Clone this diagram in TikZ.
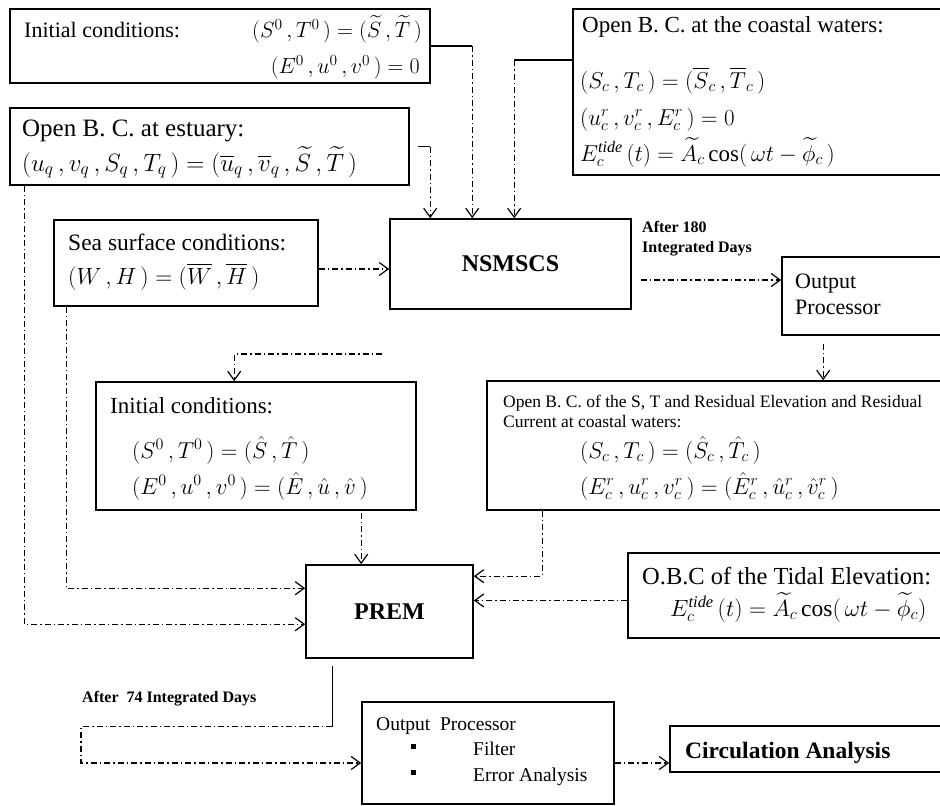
\RequirePackage{fix-cm}
\documentclass[tikz,border=0pt]{standalone}
\usepackage{amsmath}
\usepackage{fontspec}
\setmainfont{Liberation Serif}
\usetikzlibrary{arrows.meta,fit}

\tikzset{
  box/.style={draw, line width=1.6pt, inner sep=0pt},
  plain/.style={line width=1.4pt},
  flow/.style={line width=1.2pt, dash pattern=on 6pt off 3pt on 1.5pt off 3pt,
    -{Straight Barb[length=9pt,width=13pt]}},
  txt/.style={inner sep=0pt, anchor=base west},
  sz/.style={font=\fontsize{#1}{#1}\selectfont},
}

\begin{document}
\begin{tikzpicture}[x=1pt, y=-1pt]
\useasboundingbox (0,0) rectangle (940,806);

% boxes
\node [box, fit={(10,9) (430,83)}] (ic1) {};
\node [box, fit={(10,108) (409,185)}] (est) {};
\node [box, fit={(573,9) (950,175)}] (coast) {};
\node [box, fit={(54,220) (318,306)}] (sea) {};
\node [box, fit={(390,219) (631,309)}] (nsm) {};
\node [box, fit={(782,257) (950,335)}] (out1) {};
\node [box, fit={(96,382) (416,510)}] (ic2) {};
\node [box, fit={(487,381) (950,510)}] (obc) {};
\node [box, fit={(628,553) (950,638)}] (tide) {};
\node [box, fit={(306,565) (473,658)}] (prem) {};
\node [box, fit={(362,702) (614,804)}] (out2) {};
\node [box, fit={(670,726) (950,772)}] (circ) {};

% texts
\node [sz=24] (nsmt) at (nsm.center) {\bfseries NSMSCS};
\node [sz=24] (premt) at (prem.center) {\bfseries PREM};

\node [txt, sz=22] (ic1a) at (24,37) {Initial conditions:};
\node [txt, sz=22, anchor=base east] (ic1b) at (422,37) {$(S^0\,,T^0\,)=(\widetilde{S}\,,\widetilde{T}\,)$};
\node [txt, sz=22, anchor=base east] (ic1c) at (420,73) {$(E^0\,,u^0\,,v^0\,)=0$};

\node [txt, sz=25] (esta) at (22,136) {Open B. C. at estuary:};
\node [txt, sz=25] (estb) at (22,171) {$(u_q\,,v_q\,,S_q\,,T_q\,)=(\overline{u}_q\,,\overline{v}_q\,,\widetilde{S}\,,\widetilde{T}\,)$};

\node [txt, sz=23] (coa) at (582,32) {Open B. C. at the coastal waters:};
\node [txt, sz=23] (cob) at (580,88) {$(S_c\,,T_c\,)=(\overline{S}_c\,,\overline{T}_c\,)$};
\node [txt, sz=23] (coc) at (580,125) {$(u_c^r\,,v_c^r\,,E_c^r\,)=0$};
\node [txt, sz=23] (cod) at (580,161) {$E_c^{\mathit{tide}}\,(t)=\widetilde{A}_c\cos(\,\omega t-\widetilde{\phi}_c\,)$};

\node [txt, sz=23.5] (seaa) at (68,250) {Sea surface conditions:};
\node [txt, sz=23.5] (seab) at (68,284) {$(W\,,H\,)=(\overline{W}\,,\overline{H}\,)$};

\node [txt, sz=16] (d180a) at (642,232) {\bfseries After 180};
\node [txt, sz=16] (d180b) at (642,252) {\bfseries Integrated Days};

\node [txt, sz=22] (o1a) at (795,288) {Output};
\node [txt, sz=22] (o1b) at (795,314) {Processor};

\node [txt, sz=23] (ic2a) at (110,413) {Initial conditions:};
\node [txt, sz=23] (ic2b) at (132,458) {$(S^0\,,T^0\,)=(\hat{S}\,,\hat{T}\,)$};
\node [txt, sz=23] (ic2c) at (132,494) {$(E^0\,,u^0\,,v^0\,)=(\hat{E}\,,\hat{u}\,,\hat{v}\,)$};

\node [txt, sz=17.5] (obca) at (503,407) {Open B. C. of the S, T and Residual Elevation and Residual};
\node [txt, sz=17.5] (obcb) at (503,427) {Current at coastal waters:};
\node [txt, sz=23] (obcc) at (580,458) {$(S_c\,,T_c\,)=(\hat{S}_c\,,\hat{T}_c\,)$};
\node [txt, sz=23] (obcd) at (580,494) {$(E_c^r\,,u_c^r\,,v_c^r\,)=(\hat{E}_c^r\,,\hat{u}_c^r\,,\hat{v}_c^r\,)$};

\node [txt, sz=24.5] (tda) at (642,584) {O.B.C of the Tidal Elevation:};
\node [txt, sz=23.5] (tdb) at (670,616) {$E_c^{\mathit{tide}}\,(t)=\widetilde{A}_c\cos(\,\omega t-\widetilde{\phi}_c)$};

\node [txt, sz=16] (d74) at (82,702) {\bfseries After \ 74 Integrated Days};

\node [txt, sz=19.5] (o2a) at (376,730) {Output \ Processor};
\node [inner sep=0pt, fill, minimum size=5pt] (bul1) at (413,746) {};
\node [inner sep=0pt, fill, minimum size=5pt] (bul2) at (413,772) {};
\node [txt, sz=19.5] (o2b) at (473,755) {Filter};
\node [txt, sz=19.5] (o2c) at (473,781) {Error Analysis};

\node [txt, sz=23.5] (cira) at (685,758) {\bfseries Circulation Analysis};

% connectors into NSMSCS
\coordinate (nin1) at ([xshift=41pt]nsm.north west);
\coordinate (nin2) at ([xshift=83pt]nsm.north west);
\coordinate (nin3) at ([xshift=125pt]nsm.north west);
\draw [plain] (ic1.east) -- (ic1.east -| nin2);
\draw [flow] (ic1.east -| nin2) -- (nin2);
\draw [plain] ([xshift=8pt]est.east) -- (est.east -| nin1);
\draw [flow] (est.east -| nin1) -- (nin1);
\draw [plain] ([yshift=32pt]coast.west) -- ([yshift=32pt]coast.west -| nin3);
\draw [flow] ([yshift=32pt]coast.west -| nin3) -- (nin3);
\draw [flow] ([yshift=-6pt]sea.east) -- ([yshift=-6pt]sea.east -| nsm.west);

% NSMSCS to output
\draw [flow] ([xshift=9pt,yshift=-16pt]nsm.east) -- ([yshift=-16pt]nsm.east -| out1.west);
\draw [flow] ([xshift=42pt,yshift=-8pt]out1.south west) -- ([xshift=42pt]out1.south west |- obc.north);

% into second initial conditions
\coordinate (loose) at (382,354);
\draw [flow] (loose) -| ([xshift=139pt]ic2.north west);

% into PREM
\draw [flow] ([xshift=266pt,yshift=-2pt]ic2.south west) -- ([xshift=266pt]ic2.south west |- prem.north);
\draw [flow] ([xshift=13pt]sea.south west) |- ([yshift=-24pt]prem.north west);
\draw [flow] ([xshift=15pt]est.south west) |- ([yshift=-60pt]prem.north west);
\draw [flow] ([xshift=56pt]obc.south west) |- ([yshift=-12pt]prem.north east);
\draw [flow] ([yshift=-5pt]tide.west) -- ([yshift=-5pt]tide.west -| prem.east);

% PREM to output
\draw [plain] ([xshift=27pt,yshift=-7pt]prem.south west) -- ([xshift=27pt,yshift=-68pt]prem.south west) coordinate (pdown);
\draw [flow] (pdown) -- ([xshift=-1pt]pdown -| d74.west) |- ([yshift=-10pt]out2.west);
\draw [flow] ([yshift=-10pt]out2.east) -- ([yshift=-10pt]out2.east -| circ.west);
\end{tikzpicture}
\end{document}
